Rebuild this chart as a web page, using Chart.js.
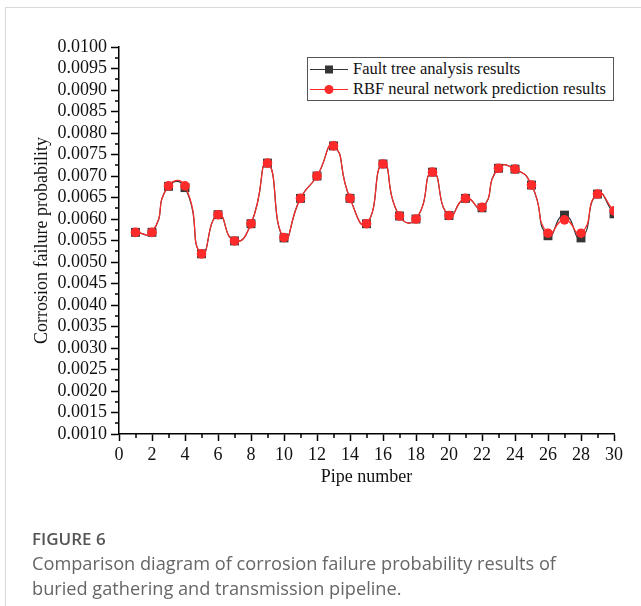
<!DOCTYPE html>
<html>
<head>
<meta charset="utf-8">
<script src="https://cdn.jsdelivr.net/npm/chart.js@4.4.1/dist/chart.umd.min.js"></script>
<style>
  html, body { margin: 0; padding: 0; background: #fff; }
  #wrap { position: relative; width: 641px; height: 606px; overflow: hidden; }
  #frame { position: absolute; left: 5px; top: 7px; right: -2px; bottom: -2px;
           border-left: 1.5px solid #d9d9d9; border-top: 1.5px solid #d9d9d9; }
  #chart { position: absolute; left: 0; top: 0; }
  #legend { position: absolute; left: 307px; top: 57px; width: 305px; height: 42px;
            border: 1.5px solid #555; background: #fff;
            font-family: "Liberation Serif", "Times New Roman", serif; font-size: 16.5px; color: #111; }
  .row { position: absolute; left: 0; height: 20px; line-height: 20px; white-space: nowrap; }
  .row canvas { position: absolute; left: 2px; top: 0; }
  .row span { position: absolute; left: 45px; top: 0; }
  #caption { position: absolute; left: 32px; top: 526px; font-family: "Open Sans", sans-serif; color: #666; }
  #caption .fig { font-size: 17px; font-weight: 600; color: #555; line-height: 25px; }
  #caption .txt { font-size: 18.2px; line-height: 25px; }
</style>
</head>
<body>
<div id="wrap">
  <div id="frame"></div>
  <canvas id="chart" width="641" height="606"></canvas>
  <div id="legend"></div>
  <div id="caption">
    <div class="fig">FIGURE 6</div>
    <div class="txt">Comparison diagram of corrosion failure probability results of<br>buried gathering and transmission pipeline.</div>
  </div>
</div>
<script>
// pipe numbers 1..30
const pipeNumbers = [1, 2, 3, 4, 5, 6, 7, 8, 9, 10, 11, 12, 13, 14, 15,
  16, 17, 18, 19, 20, 21, 22, 23, 24, 25, 26, 27, 28, 29, 30];

// fault tree analysis results (black squares)
const faultTree = [0.00569, 0.00569, 0.00676, 0.00673, 0.00519, 0.00610, 0.00549, 0.00589, 0.00730, 0.00556,
  0.00648, 0.00700, 0.00770, 0.00648, 0.00589, 0.00728, 0.00607, 0.00600, 0.00709, 0.00608,
  0.00648, 0.00626, 0.00718, 0.00716, 0.00679, 0.00561, 0.00609, 0.00556, 0.00658, 0.00612];

// RBF neural network prediction results (red circles)
const rbfPrediction = [0.00569, 0.00569, 0.00677, 0.00677, 0.00519, 0.00610, 0.00549, 0.00589, 0.00730, 0.00557,
  0.00648, 0.00700, 0.00770, 0.00648, 0.00589, 0.00728, 0.00607, 0.00600, 0.00709, 0.00608,
  0.00648, 0.00627, 0.00718, 0.00716, 0.00679, 0.00567, 0.00598, 0.00567, 0.00658, 0.00619];

const seriesNames = ['Fault tree analysis results', 'RBF neural network prediction results'];
const black = '#353535';
const red = '#ff2b2b';
const serif = '"Liberation Serif", "Times New Roman", serif';

// minor ticks between the labelled ones
const minorTicks = {
  id: 'minorTicks',
  afterDraw(chart) {
    const { ctx, scales: { x, y } } = chart;
    ctx.save();
    ctx.strokeStyle = '#000';
    ctx.lineWidth = 1.5;
    ctx.beginPath();
    for (let v = 1; v < 30; v += 2) {
      const px = Math.round(x.getPixelForValue(v));
      ctx.moveTo(px, y.bottom);
      ctx.lineTo(px, y.bottom + 4);
    }
    for (let i = 0; i < 18; i++) {
      const py = Math.round(y.getPixelForValue(0.00125 + i * 0.0005));
      ctx.moveTo(x.left, py);
      ctx.lineTo(x.left - 4, py);
    }
    ctx.stroke();
    ctx.restore();
  }
};

new Chart(document.getElementById('chart'), {
  type: 'line',
  data: {
    datasets: [
      {
        label: seriesNames[0],
        data: pipeNumbers.map((p, i) => ({ x: p, y: faultTree[i] })),
        borderColor: black,
        backgroundColor: black,
        borderWidth: 1.2,
        pointStyle: 'rect',
        pointRadius: 6.3,
        pointBorderWidth: 0,
        tension: 0.6,
        order: 2
      },
      {
        label: seriesNames[1],
        data: pipeNumbers.map((p, i) => ({ x: p, y: rbfPrediction[i] })),
        borderColor: red,
        backgroundColor: red,
        borderWidth: 1.2,
        pointStyle: 'circle',
        pointRadius: 4.8,
        pointBorderWidth: 0,
        tension: 0.6,
        order: 1
      }
    ]
  },
  options: {
    responsive: false,
    animation: false,
    layout: { padding: { left: 0, top: 47, right: 27, bottom: 112 } },
    plugins: { legend: { display: false }, tooltip: { enabled: false } },
    scales: {
      x: {
        type: 'linear',
        min: 0,
        max: 30,
        afterFit(scale) { scale.height = 60; },
        border: { display: true, color: '#000', width: 1.5 },
        grid: { drawOnChartArea: false, drawTicks: true, tickLength: 7, tickWidth: 1.5, tickColor: '#000' },
        ticks: { stepSize: 2, autoSkip: false, maxRotation: 0, padding: 3, color: '#111',
                 font: { family: serif, size: 18 } },
        title: { display: true, text: 'Pipe number', color: '#111', padding: { top: 0, bottom: 6 },
                 font: { family: serif, size: 18 } }
      },
      y: {
        min: 0.001,
        max: 0.01,
        afterFit(scale) { scale.width = 119; },
        border: { display: true, color: '#000', width: 1.5 },
        grid: { drawOnChartArea: false, drawTicks: true, tickLength: 8, tickWidth: 1.5, tickColor: '#000' },
        ticks: { stepSize: 0.0005, autoSkip: false, padding: 4, color: '#111',
                 font: { family: serif, size: 18 },
                 callback: v => v.toFixed(4) },
        title: { display: true, text: 'Corrosion failure probability', color: '#111',
                 padding: { top: 31, bottom: 0 }, font: { family: serif, size: 18 } }
      }
    }
  },
  plugins: [minorTicks]
});

// legend box
const legendBox = document.getElementById('legend');
[[black, 'rect'], [red, 'circle']].forEach(([c, shape], i) => {
  const row = document.createElement('div');
  row.className = 'row';
  row.style.top = (i === 0 ? 1 : 21) + 'px';
  const cv = document.createElement('canvas');
  cv.width = 40; cv.height = 20;
  const g = cv.getContext('2d');
  g.strokeStyle = c; g.fillStyle = c; g.lineWidth = 1;
  g.beginPath(); g.moveTo(0, 10.5); g.lineTo(38, 10.5); g.stroke();
  if (shape === 'rect') g.fillRect(15, 6.5, 8, 8);
  else { g.beginPath(); g.arc(19, 10.5, 4.5, 0, Math.PI * 2); g.fill(); }
  const sp = document.createElement('span');
  sp.textContent = seriesNames[i];
  row.appendChild(cv); row.appendChild(sp);
  legendBox.appendChild(row);
});
</script>
</body>
</html>
